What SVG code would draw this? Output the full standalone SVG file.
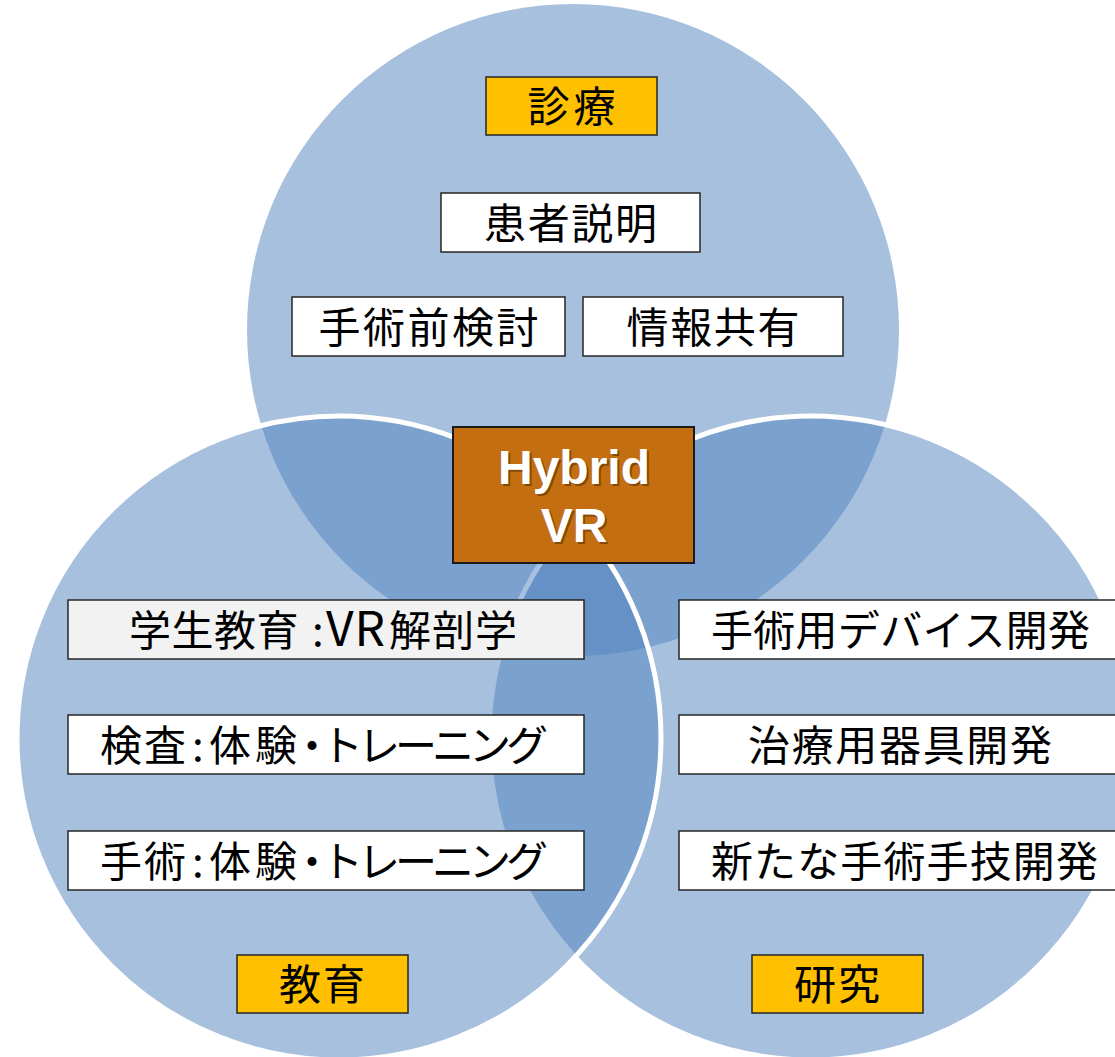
<svg xmlns="http://www.w3.org/2000/svg" width="1115" height="1057" viewBox="0 0 1115 1057">
<style>
.circ{fill:#4F81BD;fill-opacity:0.5}
.edge{stroke:#ffffff;stroke-width:5}
.box{fill:#ffffff;stroke:#262626;stroke-width:1.5}
.gray{fill:#f2f2f2}
.cat{fill:#FFC000;stroke:#262626;stroke-width:1.5}
.t{font-family:"Noto Sans CJK JP","Noto Sans",sans-serif;font-size:42px;fill:#000000;text-anchor:middle}
.s{font-family:"Noto Sans CJK JP","Noto Sans",sans-serif;font-size:42px;fill:#000000;text-anchor:start}
.h{font-family:"Liberation Sans",Arial,sans-serif;font-weight:bold;font-size:48px;text-anchor:middle}
</style>
<rect width="1115" height="1057" fill="#ffffff"/>
<g id="circles">
<circle class="circ" cx="573" cy="330" r="326"/>
<circle class="circ edge" cx="811" cy="738" r="322"/>
<circle class="circ edge" cx="339" cy="738" r="322"/>
</g>
<g id="connectors"></g>
<g id="shinryo">
<rect class="cat" x="486" y="77" width="171" height="58"/>
<text class="t" x="571.5" y="122" textLength="88" lengthAdjust="spacing">診療</text>
</g>
<g id="kanja">
<rect class="box" x="441" y="193" width="259" height="59"/>
<text class="t" x="570.5" y="238.5" textLength="173" lengthAdjust="spacing">患者説明</text>
</g>
<g id="shujutsumae">
<rect class="box" x="292" y="297" width="273" height="59"/>
<text class="t" x="428.5" y="342.5" textLength="220" lengthAdjust="spacing">手術前検討</text>
</g>
<g id="joho">
<rect class="box" x="583" y="297" width="260" height="59"/>
<text class="t" x="713" y="342.5" textLength="173" lengthAdjust="spacing">情報共有</text>
</g>
<g id="hybrid">
<rect x="453" y="427" width="241" height="136" fill="#C46E12" stroke="#1a1a1a" stroke-width="2"/>
<text class="h" x="576" y="486" fill="#5a3000" fill-opacity="0.6">Hybrid</text>
<text class="h" x="576" y="544" fill="#5a3000" fill-opacity="0.6">VR</text>
<text class="h" x="574" y="484" fill="#ffffff">Hybrid</text>
<text class="h" x="574" y="542" fill="#ffffff">VR</text>
</g>
<g id="gakusei">
<rect class="box gray" x="68" y="600" width="516" height="59"/>
<text class="s" y="645.5"><tspan x="129" letter-spacing="0.5">学生教育</tspan><tspan x="312">:</tspan><tspan x="326" font-size="48" letter-spacing="1">VR</tspan><tspan x="389" letter-spacing="1">解剖学</tspan></text>
</g>
<g id="kensa">
<rect class="box" x="68" y="715" width="516" height="59"/>
<text class="s" x="100 144 192 209 255 291 321 358 395 432 469 506" y="760.5">検査:体験・トレーニング</text>
</g>
<g id="shujutsu">
<rect class="box" x="68" y="831" width="516" height="59"/>
<text class="s" x="100 144 192 209 255 291 321 358 395 432 469 506" y="876.5">手術:体験・トレーニング</text>
</g>
<g id="device">
<rect class="box" x="679" y="600" width="445" height="59"/>
<text class="t" x="900.5" y="645.5" textLength="379" lengthAdjust="spacing">手術用デバイス開発</text>
</g>
<g id="kigu">
<rect class="box" x="679" y="715" width="445" height="59"/>
<text class="t" x="900" y="760.5" textLength="304" lengthAdjust="spacing">治療用器具開発</text>
</g>
<g id="shugi">
<rect class="box" x="679" y="831" width="445" height="59"/>
<text class="t" x="904.5" y="876.5" textLength="387" lengthAdjust="spacing">新たな手術手技開発</text>
</g>
<g id="kyoiku">
<rect class="cat" x="237" y="955" width="171" height="58"/>
<text class="t" x="322" y="1000" textLength="86" lengthAdjust="spacing">教育</text>
</g>
<g id="kenkyu">
<rect class="cat" x="752" y="955" width="171" height="58"/>
<text class="t" x="837" y="1000" textLength="86" lengthAdjust="spacing">研究</text>
</g>
</svg>
